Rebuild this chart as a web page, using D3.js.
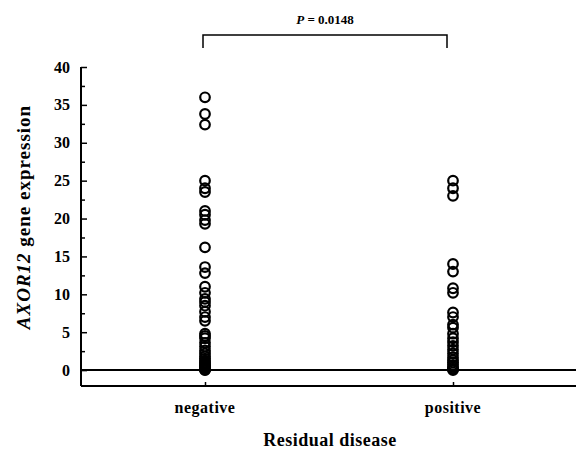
<!DOCTYPE html>
<html>
<head>
<meta charset="utf-8">
<script src="https://cdn.jsdelivr.net/npm/d3@7"></script>
<style>
  html, body { margin: 0; padding: 0; background: #fff; }
  svg { display: block; }
  text { font-family: "Liberation Serif", "Times New Roman", "DejaVu Serif", serif; font-weight: bold; fill: #000; }
</style>
</head>
<body>
<svg id="chart" width="576" height="452"></svg>
<script>
const categories = ["negative", "positive"];
const negativeValues = [36, 33.8, 32.4, 25, 24, 23.5, 21, 20.5, 19.8, 19.3, 16.2, 13.6, 12.8, 11, 10.2, 9.4, 9, 8.5, 7.7, 7, 6.5,
  4.8, 4.5, 4.2, 3.6, 3.1, 2.6, 2.2, 1.8, 1.5, 1.2, 1, 0.8, 0.6, 0.45, 0.3, 0.2, 0.1, 0.05, 0];
const positiveValues = [25, 24, 23, 14, 13, 10.8, 10.2, 7.6, 7, 6, 5.6, 4.8, 4.2, 3.7, 3.2, 2.7, 2.2, 1.7, 1.3, 1, 0.7, 0.4, 0.2, 0.1, 0];
const majorTicks = [0, 5, 10, 15, 20, 25, 30, 35, 40];
const minorTicks = [2.5, 7.5, 12.5, 17.5, 22.5, 27.5, 32.5, 37.5];
const pLabel = "P";
const pValue = " = 0.0148";
const yTitleGene = "AXOR12";
const yTitleRest = " gene expression";
const xTitle = "Residual disease";

(function () {
const svg = d3.select("#chart");
const mLeft = 81, mRight = 577, mTop = 67, mBottom = 386;

const x = d3.scalePoint().domain(categories).range([mLeft, mRight]).padding(0.5);
const y = d3.scaleLinear().domain([-2.1, 40]).range([mBottom, mTop]);

// Left axis (major ticks, inward)
const yAxis = d3.axisRight(y).tickValues(majorTicks).tickSize(6).tickFormat("");
const gy = svg.append("g").attr("transform", `translate(${mLeft},0)`).call(yAxis);
gy.select(".domain").remove();
gy.selectAll(".tick line").attr("stroke", "#000").attr("stroke-width", 1.5);
const yAxisMinor = d3.axisRight(y).tickValues(minorTicks).tickSize(4).tickFormat("");
const gym = svg.append("g").attr("transform", `translate(${mLeft},0)`).call(yAxisMinor);
gym.select(".domain").remove();
gym.selectAll(".tick line").attr("stroke", "#000").attr("stroke-width", 1.5);

// tick labels
svg.append("g").selectAll("text").data(majorTicks).join("text")
  .attr("x", 70).attr("y", d => y(d)).attr("dy", "0.35em")
  .attr("text-anchor", "end").attr("font-size", 16).text(d => d);

// axis lines
svg.append("line").attr("x1", mLeft).attr("x2", mLeft).attr("y1", y(40)).attr("y2", mBottom)
  .attr("stroke", "#000").attr("stroke-width", 2);
svg.append("line").attr("x1", mLeft).attr("x2", 576).attr("y1", mBottom).attr("y2", mBottom)
  .attr("stroke", "#000").attr("stroke-width", 2);
svg.append("line").attr("x1", mLeft).attr("x2", 576).attr("y1", y(0)).attr("y2", y(0))
  .attr("stroke", "#000").attr("stroke-width", 2);

// bottom category ticks
const xAxis = d3.axisTop(x).tickSize(4).tickFormat("");
const gx = svg.append("g").attr("transform", `translate(0,${mBottom})`).call(xAxis);
gx.select(".domain").remove();
gx.selectAll(".tick line").attr("stroke", "#000").attr("stroke-width", 1.5);

// category labels
svg.append("g").selectAll("text").data(categories).join("text")
  .attr("x", d => x(d)).attr("y", 413).attr("text-anchor", "middle")
  .attr("font-size", 16).attr("letter-spacing", 0.5).text(d => d);

// x title
svg.append("text").attr("x", 330).attr("y", 446).attr("text-anchor", "middle")
  .attr("font-size", 18).attr("letter-spacing", 0.5).text(xTitle);

// y title
const yt = svg.append("text").attr("transform", "translate(30,217) rotate(-90)")
  .attr("text-anchor", "middle").attr("font-size", 19).attr("letter-spacing", 1);
yt.append("tspan").attr("font-style", "italic").text(yTitleGene);
yt.append("tspan").text(yTitleRest);

// points
const pts = [];
negativeValues.forEach(v => pts.push({c: "negative", v}));
positiveValues.forEach(v => pts.push({c: "positive", v}));
svg.append("g").selectAll("circle").data(pts).join("circle")
  .attr("cx", d => x(d.c)).attr("cy", d => y(d.v)).attr("r", 4.8)
  .attr("fill", "none").attr("stroke", "#000").attr("stroke-width", 2.2);

// significance bracket
const bx1 = x("negative") - 2, bx2 = x("positive") - 6, by = 35, byl = 48;
svg.append("path").attr("d", `M${bx1},${byl}V${by}H${bx2}V${byl}`)
  .attr("fill", "none").attr("stroke", "#000").attr("stroke-width", 1.5);
const pt = svg.append("text").attr("x", (bx1 + bx2) / 2).attr("y", 24)
  .attr("text-anchor", "middle").attr("font-size", 13);
pt.append("tspan").attr("font-style", "italic").text(pLabel);
pt.append("tspan").text(pValue);
})();
</script>
</body>
</html>
